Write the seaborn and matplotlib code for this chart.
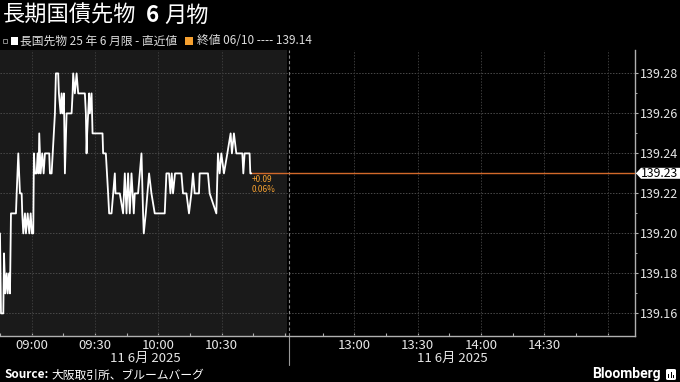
import numpy as np
import pandas as pd
import matplotlib
matplotlib.use("Agg")
import matplotlib.pyplot as plt
import matplotlib.transforms as mtransforms
from matplotlib.patches import Polygon, Rectangle, FancyBboxPatch
import seaborn as sns

# ---------------- data ----------------
times = [
    "08:45:00", "08:45:28", "08:46:34", "08:46:54", "08:47:30", "08:48:10", "08:48:39", "08:49:16",
    "08:49:44", "08:50:12", "08:52:34", "08:52:54", "08:53:40", "08:54:28", "08:55:16", "08:55:33",
    "08:56:02", "08:56:50", "08:57:18", "08:58:07", "08:58:52", "08:59:32", "09:00:08", "09:00:46",
    "09:01:05", "09:01:34", "09:02:22", "09:02:50", "09:03:19", "09:03:36", "09:04:16", "09:05:01",
    "09:05:41", "09:06:18", "09:08:20", "09:08:40", "09:09:28", "09:11:02", "09:11:30", "09:12:35",
    "09:12:55", "09:13:44", "09:14:12", "09:14:40", "09:15:17", "09:15:46", "09:16:34", "09:18:56",
    "09:19:25", "09:19:41", "09:20:29", "09:21:18", "09:22:04", "09:25:14", "09:25:42", "09:26:02",
    "09:26:19", "09:27:16", "09:27:35", "09:28:24", "09:28:52", "09:33:36", "09:33:53", "09:35:10",
    "09:36:15", "09:36:44", "09:37:52", "09:39:26", "09:39:45", "09:41:47", "09:43:21", "09:44:10",
    "09:44:58", "09:45:43", "09:46:31", "09:47:20", "09:48:25", "09:48:53", "09:50:27", "09:52:04",
    "09:52:49", "09:53:09", "09:54:06", "09:55:40", "09:56:47", "09:58:21", "10:03:05", "10:03:53",
    "10:05:07", "10:05:47", "10:06:24", "10:07:01", "10:07:58", "10:10:59", "10:11:45", "10:13:22",
    "10:14:35", "10:15:43", "10:16:29", "10:17:17", "10:19:19", "10:19:39", "10:23:35", "10:24:23",
    "10:27:33", "10:28:19", "10:29:07", "10:29:55", "10:31:09", "10:32:46", "10:34:19", "10:34:56",
    "10:35:53", "10:37:01", "10:39:52", "10:40:20", "10:40:57", "10:43:19", "10:43:39", "10:44:07",
]
prices = [
    139.20, 139.16, 139.16, 139.19, 139.17, 139.18, 139.17, 139.18,
    139.17, 139.21, 139.21, 139.22, 139.24, 139.22, 139.22, 139.21,
    139.20, 139.21, 139.20, 139.21, 139.20, 139.21, 139.20, 139.20,
    139.24, 139.23, 139.23, 139.24, 139.23, 139.25, 139.23, 139.24,
    139.23, 139.24, 139.24, 139.23, 139.23, 139.26, 139.28, 139.28,
    139.27, 139.26, 139.27, 139.26, 139.27, 139.23, 139.26, 139.26,
    139.27, 139.28, 139.27, 139.28, 139.27, 139.27, 139.26, 139.24,
    139.25, 139.27, 139.26, 139.27, 139.25, 139.25, 139.24, 139.24,
    139.22, 139.21, 139.21, 139.23, 139.22, 139.22, 139.21, 139.23,
    139.21, 139.23, 139.21, 139.23, 139.21, 139.22, 139.22, 139.24,
    139.21, 139.20, 139.21, 139.23, 139.22, 139.21, 139.21, 139.23,
    139.23, 139.22, 139.23, 139.22, 139.23, 139.23, 139.22, 139.22,
    139.21, 139.22, 139.23, 139.22, 139.22, 139.23, 139.23, 139.22,
    139.21, 139.24, 139.23, 139.24, 139.23, 139.24, 139.25, 139.24,
    139.25, 139.24, 139.24, 139.23, 139.24, 139.24, 139.23, 139.23,
]
y_ticks = [139.16, 139.18, 139.20, 139.22, 139.24, 139.26, 139.28]
x_tick_times = ["08:45", "09:00", "09:15", "09:30", "09:45", "10:00", "10:15", "10:30", "10:45", "11:00",
                "12:45", "13:00", "13:15", "13:30", "13:45", "14:00", "14:15", "14:30", "14:45", "15:00"]
x_label_times = ["09:00", "09:30", "10:00", "10:30", "13:00", "13:30", "14:00", "14:30"]
grid_times = ["09:00", "09:30", "10:00", "10:30", "13:00", "13:30", "14:00", "14:30", "15:00"]
session_dates = ["11 6月 2025", "11 6月 2025"]
title_parts = ["長期国債先物", "6", "月物"]
legend_series = "長国先物 25 年 6 月限 - 直近値"
legend_prev = "終値 06/10 ---- 139.14"
change_abs = "+0.09"
change_pct = "0.06%"
source_text = "大阪取引所、ブルームバーグ"

# ---------------- helpers ----------------
MORNING_START = 8 * 60 + 45
MORNING_END = 11 * 60 + 2
AFTERNOON_START = 12 * 60 + 30
AFTERNOON_OFFSET = 138.0


def to_axis(t):
    parts = [int(p) for p in t.split(":")]
    m = parts[0] * 60 + parts[1] + (parts[2] / 60 if len(parts) > 2 else 0)
    if m <= MORNING_END:
        return m - MORNING_START
    return m - AFTERNOON_START + AFTERNOON_OFFSET


df = pd.DataFrame({"t": [to_axis(t) for t in times], "price": prices})

# ---------------- style ----------------
sns.set_style("dark")
CJK = ["Noto Sans CJK JP", "DejaVu Sans"]
plt.rcParams["font.family"] = CJK
plt.rcParams["axes.unicode_minus"] = False

W, H = 680, 382
fig = plt.figure(figsize=(W / 100, H / 100), dpi=100, facecolor="black")
ax_left, ax_right, ax_top, ax_bottom = 0, 635.0, 50, 336
ax = fig.add_axes([ax_left / W, 1 - ax_bottom / H, (ax_right - ax_left) / W, (ax_bottom - ax_top) / H])
ax.set_facecolor("black")

xmax = to_axis("15:13")
ax.set_xlim(0, xmax)
ax.set_ylim(139.1487, 139.2917)

# morning session background
ax.axvspan(0, to_axis("11:01"), color="#1a1a1a", zorder=0, lw=0)

# grid
for y in y_ticks:
    ax.axhline(y, color="#4a4a4a", lw=0.7, ls=(0, (1.5, 1.5)), zorder=1)
for t in grid_times:
    ax.axvline(to_axis(t), color="#3a3a3a", lw=0.7, ls=(0, (1.5, 1.5)), zorder=1)

# session divider
div_x = to_axis("11:02")
ax.axvline(div_x, color="#8a8a8a", lw=0.8, ls=(0, (3, 2)), zorder=2)
blend = mtransforms.blended_transform_factory(ax.transData, ax.transAxes)
ax.plot([div_x, div_x], [0, -(365 - 336) / 286], color="#9a9a9a", lw=0.8,
        transform=blend, clip_on=False)

# price line
sns.lineplot(data=df, x="t", y="price", ax=ax, color="white", lw=1.3,
             estimator=None, sort=False, zorder=4)
ax.set_xlabel("")
ax.set_ylabel("")

ORANGE = "#f5a030"
LINE_ORANGE = "#d2692a"
last_t = df["t"].iloc[-1]
last_p = df["price"].iloc[-1]
ax.plot([last_t, xmax], [last_p, last_p], color=LINE_ORANGE, lw=1.0, zorder=3, solid_capstyle="butt")
ax.text(last_t + 0.1, last_p - 0.0029, change_abs, color=ORANGE, fontsize=6,
        ha="left", va="center", family=CJK)
ax.text(last_t + 0.1, last_p - 0.0083, change_pct, color=ORANGE, fontsize=6,
        ha="left", va="center", family=CJK)

# spines / ticks
for s in ["top", "left"]:
    ax.spines[s].set_visible(False)
for s in ["bottom", "right"]:
    ax.spines[s].set_visible(True)
    ax.spines[s].set_color("#b0b0b0")
    ax.spines[s].set_linewidth(1.0)

ax.set_xticks([to_axis(t) for t in x_tick_times])
ax.set_xticklabels([t if t in x_label_times else "" for t in x_tick_times])
ax.tick_params(axis="x", direction="in", length=2.5, width=0.8, color="#b0b0b0",
               labelcolor="#e6e6e6", labelsize=9.5, pad=2, bottom=True)

ax.yaxis.tick_right()
ax.set_yticks(y_ticks)
ax.set_yticklabels([f"{v:.2f}" for v in y_ticks])
ax.set_yticks([v + 0.01 for v in y_ticks[:-1]], minor=True)
ax.tick_params(axis="y", which="major", direction="out", length=2.5, width=0.8,
               color="#b0b0b0", labelcolor="#e6e6e6", labelsize=9, pad=1.2, right=True)
ax.tick_params(axis="y", which="minor", direction="out", length=1.5, width=0.7,
               color="#b0b0b0", right=True, left=False)
ax.grid(False)

# current value tag on right axis
yc = 173.3
tag = Polygon([(636 / W, 1 - yc / H), (641 / W, 1 - (yc - 5.5) / H), (680 / W, 1 - (yc - 5.5) / H),
               (680 / W, 1 - (yc + 5.5) / H), (641 / W, 1 - (yc + 5.5) / H)],
              closed=True, transform=fig.transFigure, facecolor="white", edgecolor="none", zorder=10)
fig.patches.append(tag)
fig.text(641 / W, 1 - yc / H, f"{last_p:.2f}", color="black", fontsize=8.8, ha="left", va="center",
         zorder=11)

# session date labels
fig.text(145 / W, 1 - 358 / H, session_dates[0], color="#e6e6e6", fontsize=9.5, ha="center", va="center")
fig.text(452 / W, 1 - 358 / H, session_dates[1], color="#e6e6e6", fontsize=9.5, ha="center", va="center")

# title
renderer = fig.canvas.get_renderer()
t1 = fig.text(3 / W, 1 - 15 / H, title_parts[0], color="white", fontsize=16, ha="left", va="center")
bb = t1.get_window_extent(renderer)
t2 = fig.text((bb.x1 + 9) / W, 1 - 15 / H, title_parts[1], color="white", fontsize=16,
              fontweight="bold", ha="left", va="center")
bb2 = t2.get_window_extent(renderer)
fig.text((bb2.x1 + 6) / W, 1 - 15 / H, title_parts[2], color="white", fontsize=16, ha="left", va="center")

# legend row
ly = 41
fig.patches.append(Rectangle((3 / W, 1 - (ly + 2) / H), 3.5 / W, 4 / H, transform=fig.transFigure,
                             facecolor="none", edgecolor="#888888", lw=0.7))
fig.patches.append(Rectangle((11 / W, 1 - (ly + 4) / H), 7 / W, 8 / H, transform=fig.transFigure,
                             facecolor="white", edgecolor="none"))
fig.text(20 / W, 1 - ly / H, legend_series, color="#dddddd", fontsize=8.5, ha="left", va="center")
fig.patches.append(Rectangle((185 / W, 1 - (ly + 4) / H), 8 / W, 8 / H, transform=fig.transFigure,
                             facecolor=ORANGE, edgecolor="none"))
fig.text(197 / W, 1 - ly / H, legend_prev, color="#dddddd", fontsize=8.5, ha="left", va="center")

# footer
s1 = fig.text(4 / W, 1 - 375 / H, "Source:", color="white", fontsize=8.5, fontweight="bold",
              ha="left", va="center")
sb = s1.get_window_extent(renderer)
fig.text((sb.x1 + 3) / W, 1 - 375 / H, source_text, color="white", fontsize=8.5, ha="left", va="center")
fig.text(661 / W, 1 - 374 / H, "Bloomberg", color="white", fontsize=10, fontweight="bold",
         ha="right", va="center", family=["Roboto", "DejaVu Sans"])
fig.patches.append(FancyBboxPatch((666 / W, 1 - 380 / H), 10 / W, 11 / H,
                                  boxstyle="round,pad=0,rounding_size=0.003",
                                  transform=fig.transFigure, facecolor="white", edgecolor="none"))
for i, hgt in enumerate([4, 6, 3]):
    fig.patches.append(Rectangle(((668 + i * 2.5) / W, 1 - 378 / H), 1.4 / W, hgt / H,
                                 transform=fig.transFigure, facecolor="black", edgecolor="none"))

fig.savefig("out.png", dpi=100, facecolor="black")
